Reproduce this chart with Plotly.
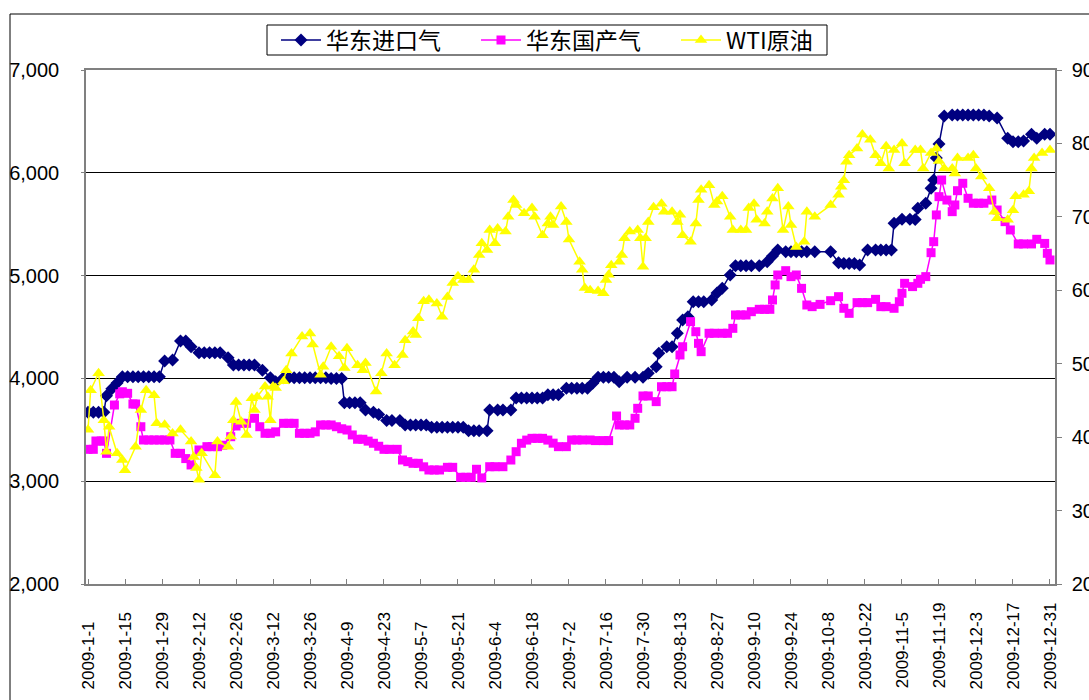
import plotly.graph_objects as go
import pandas as pd

# ---------------- data (day offset from 2009-01-01, value) ----------------
imp_day = [0, 2, 4, 6, 7, 9, 11, 13, 15, 17, 19, 21, 23, 25, 27, 29, 32, 35, 37, 39, 42, 44, 46, 48, 50,
           53, 55, 57, 59, 61, 63, 66, 69, 71, 74, 76, 78, 80, 82, 84, 86, 88, 90, 92, 94, 96, 97, 99,
           101, 103, 105, 108, 110, 113, 115, 118, 120, 122, 124, 126, 128, 130, 132, 134, 136, 138,
           140, 142, 144, 146, 148, 151, 152, 155, 157, 160, 162, 164, 166, 168, 170, 172, 174, 176,
           178, 181, 183, 185, 187, 189, 191, 193, 195, 197, 199, 201, 204, 207, 210, 212, 215, 216,
           219, 221, 223, 225, 227, 229, 231, 233, 236, 238, 240, 243, 245, 247, 249, 251, 254, 257,
           259, 261, 264, 266, 268, 270, 272, 275, 281, 284, 286, 288, 290, 292, 295, 298, 300, 302,
           304, 305, 308, 311, 313, 314, 317, 319, 320, 321, 322, 324, 327, 329, 331, 333, 335, 337,
           339, 341, 344, 348, 350, 352, 354, 357, 359, 362, 364]
imp_val = [3670, 3670, 3670, 3670, 3832, 3900, 3955, 4017, 4017, 4017, 4017, 4017, 4017, 4017, 4017, 4170,
           4180, 4364, 4364, 4308, 4250, 4250, 4250, 4250, 4250, 4200, 4130, 4130, 4130, 4130, 4130,
           4080, 4007, 3968, 4007, 4007, 4007, 4007, 4007, 4007, 4007, 4007, 4007, 4000, 4000, 4000,
           3764, 3764, 3764, 3764, 3693, 3670, 3650, 3590, 3590, 3590, 3547, 3547, 3547, 3547, 3547,
           3525, 3525, 3525, 3525, 3525, 3525, 3525, 3490, 3490, 3490, 3490, 3693, 3693, 3693, 3693,
           3810, 3810, 3810, 3810, 3810, 3810, 3840, 3840, 3840, 3904, 3904, 3904, 3904, 3904, 3952,
           4010, 4010, 4010, 4010, 3968, 4010, 4010, 4010, 4050, 4114, 4244, 4308, 4308, 4439, 4568,
           4600, 4746, 4746, 4746, 4763, 4830, 4876, 5006, 5097, 5097, 5097, 5097, 5097, 5135, 5190,
           5250, 5233, 5233, 5233, 5233, 5233, 5233, 5233, 5126, 5117, 5117, 5117, 5103, 5250, 5250,
           5250, 5250, 5250, 5509, 5548, 5548, 5545, 5655, 5704, 5850, 5930, 6144, 6280, 6553, 6562,
           6562, 6562, 6562, 6562, 6562, 6562, 6553, 6533, 6336, 6303, 6303, 6310, 6375, 6336, 6375,
           6375]

dom_day = [0, 2, 3, 5, 6, 7, 10, 12, 13, 15, 17, 18, 20, 21, 23, 25, 27, 29, 31, 33, 35, 37, 39, 42, 45,
           47, 49, 51, 54, 56, 58, 60, 63, 65, 67, 69, 71, 74, 76, 78, 80, 82, 84, 86, 88, 90, 92, 94,
           96, 98, 100, 102, 104, 106, 108, 110, 112, 114, 117, 119, 121, 123, 125, 127, 129, 131, 133,
           136, 138, 141, 143, 145, 147, 149, 152, 154, 157, 160, 162, 164, 166, 168, 170, 172, 174,
           176, 178, 181, 183, 185, 187, 190, 192, 195, 197, 200, 201, 203, 205, 207, 208, 210, 212,
           215, 217, 219, 221, 222, 224, 225, 228, 230, 231, 232, 235, 237, 240, 242, 244, 245, 247,
           249, 251, 254, 256, 258, 259, 260, 261, 264, 266, 268, 270, 272, 274, 277, 281, 284, 286,
           288, 291, 293, 295, 298, 300, 302, 305, 307, 308, 309, 312, 314, 315, 317, 319, 320, 321,
           322, 323, 325, 327, 328, 329, 331, 333, 335, 337, 339, 342, 344, 347, 349, 352, 354, 357,
           359, 362, 363, 364]
dom_val = [3310, 3310, 3391, 3391, 3391, 3271, 3741, 3850, 3870, 3855, 3751, 3751, 3530, 3401, 3401, 3401,
           3401, 3401, 3401, 3271, 3271, 3220, 3158, 3304, 3336, 3336, 3336, 3350, 3433, 3537, 3563,
           3563, 3612, 3530, 3466, 3466, 3480, 3563, 3563, 3563, 3466, 3466, 3466, 3480, 3547, 3547,
           3547, 3530, 3510, 3498, 3450, 3408, 3408, 3390, 3369, 3340, 3310, 3310, 3310, 3206, 3190,
           3174, 3174, 3140, 3109, 3109, 3109, 3135, 3135, 3038, 3038, 3038, 3116, 3032, 3141, 3141,
           3141, 3206, 3287, 3369, 3400, 3417, 3417, 3417, 3400, 3370, 3336, 3336, 3401, 3401, 3401,
           3401, 3395, 3395, 3395, 3634, 3547, 3547, 3547, 3612, 3709, 3829, 3829, 3774, 3919, 3919,
           3919, 4043, 4228, 4308, 4552, 4454, 4341, 4260, 4439, 4439, 4439, 4439, 4487, 4617, 4617,
           4617, 4649, 4672, 4672, 4672, 4763, 4909, 5006, 5048, 4990, 5006, 4876, 4714, 4698, 4720,
           4756, 4795, 4682, 4633, 4737, 4737, 4737, 4769, 4698, 4698, 4682, 4746, 4828, 4925, 4893,
           4925, 4964, 4990, 5223, 5330, 5590, 5768, 5930, 5735, 5622, 5687, 5826, 5898, 5752, 5704,
           5704, 5704, 5735, 5638, 5525, 5444, 5308, 5308, 5308, 5353, 5313, 5217, 5152]

wti_day = [0, 1, 4, 6, 7, 8, 11, 13, 14, 18, 20, 22, 25, 26, 29, 32, 35, 39, 40, 41, 42, 43, 48, 49, 53,
           54, 55, 56, 58, 60, 62, 63, 64, 67, 68, 69, 70, 71, 74, 75, 77, 81, 84, 85, 88, 89, 92, 95,
           97, 98, 102, 104, 105, 109, 111, 113, 116, 119, 120, 123, 124, 125, 127, 129, 132, 134, 136,
           138, 140, 142, 144, 146, 148, 149, 151, 152, 154, 155, 158, 159, 161, 162, 165, 168, 169,
           172, 174, 175, 176, 179, 181, 182, 186, 187, 188, 190, 193, 195, 196, 197, 198, 201, 202,
           203, 205, 208, 209, 210, 211, 212, 214, 217, 218, 221, 223, 224, 225, 228, 230, 231, 232,
           235, 237, 238, 240, 243, 244, 247, 249, 250, 252, 253, 256, 257, 259, 261, 263, 265, 266,
           268, 271, 272, 275, 281, 284, 285, 286, 287, 288, 291, 293, 296, 298, 300, 302, 303, 305,
           308, 309, 313, 315, 316, 319, 321, 322, 324, 327, 328, 329, 333, 335, 336, 338, 341, 343,
           344, 348, 350, 351, 354, 356, 357, 358, 361, 364]
wti_val = [41.0, 46.4, 48.7, 42.3, 38.0, 41.4, 37.8, 36.9, 35.5, 38.7, 43.7, 46.4, 45.7, 41.9, 41.7, 40.5,
           41.0, 39.4, 37.3, 35.8, 34.2, 37.8, 34.8, 39.4, 38.7, 40.1, 42.3, 44.8, 42.1, 40.3, 45.3,
           43.7, 45.5, 46.9, 45.5, 42.3, 46.9, 46.7, 47.6, 49.1, 51.4, 53.7, 54.1, 52.6, 48.5, 49.6,
           52.3, 51.0, 49.4, 52.1, 49.8, 49.1, 50.1, 46.2, 48.7, 51.4, 49.8, 51.2, 53.2, 54.4, 53.9,
           56.2, 58.5, 58.7, 58.2, 56.4, 59.1, 61.0, 61.9, 61.4, 61.4, 62.8, 64.8, 66.4, 65.5, 68.2,
           66.4, 68.4, 68.0, 70.0, 72.3, 71.6, 70.5, 71.2, 70.0, 67.5, 69.1, 70.0, 68.9, 71.4, 69.3,
           66.9, 63.9, 62.8, 60.3, 60.0, 59.9, 59.6, 61.4, 62.1, 63.4, 63.9, 64.8, 67.1, 68.0, 68.2,
           67.1, 63.2, 67.1, 69.3, 71.3, 71.8, 70.7, 70.7, 69.3, 70.3, 67.5, 66.6, 69.1, 72.3, 73.7,
           74.3, 71.6, 72.1, 72.8, 70.0, 68.2, 68.2, 68.2, 71.2, 71.8, 69.6, 69.1, 70.7, 72.5, 73.9,
           68.2, 71.4, 68.9, 65.9, 66.6, 70.7, 70.0, 71.6, 73.0, 74.1, 75.0, 77.5, 78.4, 79.3, 81.2,
           80.5, 78.4, 77.3, 79.6, 76.6, 79.1, 80.0, 77.3, 79.1, 79.1, 76.6, 78.7, 79.3, 77.6, 76.6,
           76.6, 75.9, 78.0, 78.0, 78.4, 76.6, 75.5, 73.9, 70.7, 69.8, 69.6, 70.9, 72.8, 73.0, 73.5,
           76.6, 78.0, 78.7, 79.1]

series_names = ["华东进口气", "华东国产气", "WTI原油"]
tick_dates = ["2009-01-01", "2009-01-15", "2009-01-29", "2009-02-12", "2009-02-26", "2009-03-12",
              "2009-03-26", "2009-04-09", "2009-04-23", "2009-05-07", "2009-05-21", "2009-06-04",
              "2009-06-18", "2009-07-02", "2009-07-16", "2009-07-30", "2009-08-13", "2009-08-27",
              "2009-09-10", "2009-09-24", "2009-10-08", "2009-10-22", "2009-11-05", "2009-11-19",
              "2009-12-03", "2009-12-17", "2009-12-31"]
tick_labels = ["2009-1-1", "2009-1-15", "2009-1-29", "2009-2-12", "2009-2-26", "2009-3-12",
               "2009-3-26", "2009-4-9", "2009-4-23", "2009-5-7", "2009-5-21", "2009-6-4",
               "2009-6-18", "2009-7-2", "2009-7-16", "2009-7-30", "2009-8-13", "2009-8-27",
               "2009-9-10", "2009-9-24", "2009-10-8", "2009-10-22", "2009-11-5", "2009-11-19",
               "2009-12-3", "2009-12-17", "2009-12-31"]
left_ticks = [2000, 3000, 4000, 5000, 6000, 7000]
right_ticks = [20, 30, 40, 50, 60, 70, 80, 90]

base = pd.Timestamp("2009-01-01")


def to_dates(days):
    return [base + pd.Timedelta(days=d) for d in days]


# labels start at a common baseline (bottom), like the reference: pad the
# end of shorter labels with no-break spaces (2 per missing digit)
ndig = [sum(ch.isdigit() for ch in t) for t in tick_labels]
maxdig = max(ndig)
tick_text = [t + "\u00a0" * (2 * (maxdig - n)) for t, n in zip(tick_labels, ndig)]

# plot area in pixels: x 86..1055, y 70..584
W, H = 1089, 700
L, R, T, B = 86, 1055, 70, 584


def px_x(p):
    return (p - L) / (R - L)


def px_y(p):
    return (B - p) / (B - T)


FONT = "Liberation Sans, Arial, sans-serif"
CJK = "Noto Sans CJK SC, sans-serif"

fig = go.Figure()
fig.add_trace(go.Scatter(
    x=to_dates(imp_day), y=imp_val, name=series_names[0], mode="lines+markers",
    line=dict(color="#000080", width=1.5),
    marker=dict(symbol="diamond", size=10, color="#000080"),
    legend="legend",
))
fig.add_trace(go.Scatter(
    x=to_dates(dom_day), y=dom_val, name=series_names[1], mode="lines+markers",
    line=dict(color="#FF00FF", width=1.5),
    marker=dict(symbol="square", size=9, color="#FF00FF"),
    legend="legend2",
))
fig.add_trace(go.Scatter(
    x=to_dates(wti_day), y=wti_val, name=series_names[2], mode="lines+markers", yaxis="y2",
    line=dict(color="#FFFF00", width=1.5),
    marker=dict(symbol="triangle-up", size=11, color="#FFFF00"),
    legend="legend3",
))

leg_common = dict(
    orientation="h", xanchor="left", yanchor="middle", y=px_y(40),
    bgcolor="rgba(0,0,0,0)", borderwidth=0,
    font=dict(family=CJK, size=23, color="black"),
    itemwidth=40,
)

fig.update_layout(
    width=W, height=H,
    margin=dict(l=L, r=W - R, t=T, b=H - B, autoexpand=False),
    paper_bgcolor="white", plot_bgcolor="white",
    font=dict(family=FONT, size=16, color="black"),
    showlegend=True,
    legend=dict(leg_common, x=px_x(276)),
    legend2=dict(leg_common, x=px_x(476)),
    legend3=dict(leg_common, x=px_x(676)),
    xaxis=dict(
        type="date", automargin=False,
        range=["2008-12-31 05:50", "2010-01-01 21:36"],
        tickmode="array", tickvals=tick_dates, ticktext=tick_text,
        tickangle=-90, tickfont=dict(family=FONT, size=17, color="black"),
        ticks="inside", ticklen=5, tickcolor="#808080",
        ticklabelstandoff=10,
        showline=True, linecolor="#808080", linewidth=1.5, mirror=True,
        showgrid=False, zeroline=False,
    ),
    yaxis=dict(
        automargin=False,
        range=[2000, 7000], tickmode="array", tickvals=left_ticks,
        tickformat=",", tickfont=dict(family=FONT, size=20, color="black"),
        ticks="outside", ticklen=3, tickcolor="#808080",
        ticklabelstandoff=18,
        showline=True, linecolor="#808080", linewidth=1.5,
        showgrid=True, gridcolor="black", gridwidth=1, zeroline=False,
    ),
    yaxis2=dict(
        automargin=False,
        range=[20, 90], tickmode="array", tickvals=right_ticks,
        overlaying="y", side="right",
        tickfont=dict(family=FONT, size=20, color="black"),
        ticks="outside", ticklen=5, tickcolor="#808080",
        ticklabelstandoff=6,
        showline=True, linecolor="#808080", linewidth=1.5,
        showgrid=False, zeroline=False,
    ),
    shapes=[
        # outer chart-area frame
        dict(type="rect", xref="paper", yref="paper",
             x0=px_x(10), x1=px_x(1100), y0=px_y(710), y1=px_y(14),
             line=dict(color="black", width=1), fillcolor="rgba(0,0,0,0)", layer="below"),
        # legend frame
        dict(type="rect", xref="paper", yref="paper",
             x0=px_x(267), x1=px_x(827), y0=px_y(55), y1=px_y(25),
             line=dict(color="black", width=1), fillcolor="white", layer="below"),
    ],
)

fig.write_html("out.html")
